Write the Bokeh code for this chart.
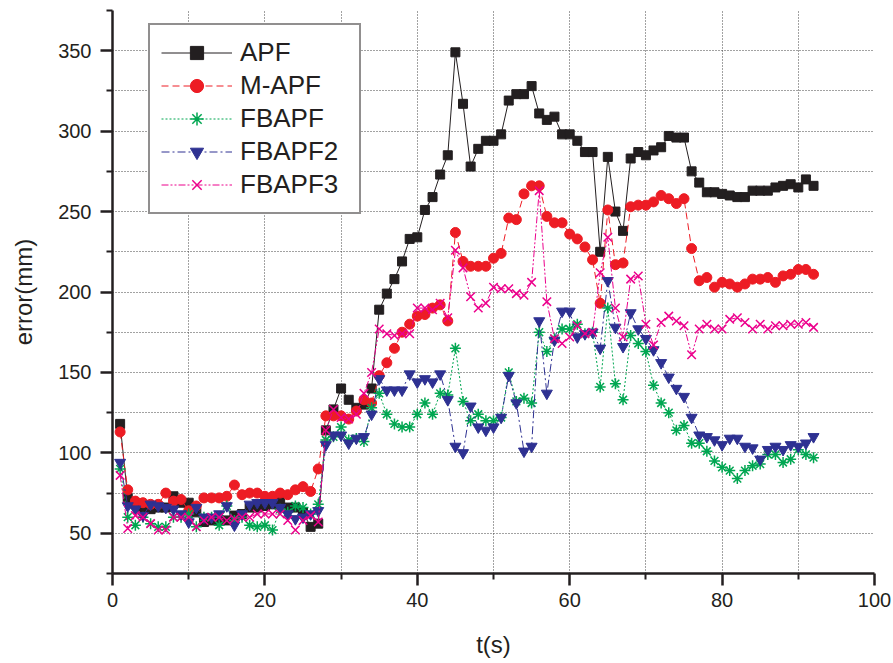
from bokeh.plotting import figure
from bokeh.models import FixedTicker, Range1d, Legend, LegendItem, ColumnDataSource
from bokeh.embed import file_html
from bokeh.resources import INLINE

t = list(range(1, 93))

apf = [118, 72, 68, 65, 65, 66, 66, 73, 69, 69,
       63, 57, 58, 58, 58, 61, 62, 66, 66, 67,
       68, 71, 66, 66, 63, 54, 56, 114, 127, 140,
       133, 128, 130, 140, 189, 199, 208, 219, 233, 234,
       251, 259, 273, 285, 349, 317, 278, 289, 294, 294,
       298, 319, 323, 323, 328, 311, 307, 309, 298, 298,
       294, 287, 287, 225, 284, 250, 238, 283, 287, 285,
       288, 290, 297, 296, 296, 275, 268, 262, 262, 261,
       260, 259, 259, 263, 263, 263, 265, 266, 267, 265,
       270, 266]

m_apf = [113, 77, 70, 69, 68, 68, 75, 70, 71, 64,
         67, 72, 72, 72, 73, 80, 74, 75, 75, 73,
         73, 75, 74, 77, 79, 76, 90, 123, 123, 123,
         121, 126, 133, 131, 148, 156, 165, 175, 180, 185,
         186, 190, 192, 182, 237, 219, 216, 216, 216, 221,
         224, 246, 245, 261, 266, 266, 247, 243, 243, 236,
         233, 228, 220, 193, 251, 217, 218, 253, 254, 254,
         256, 260, 258, 255, 258, 227, 207, 209, 203, 206,
         205, 203, 205, 208, 208, 209, 206, 210, 211, 214,
         214, 211]

fbapf = [90, 60, 55, 60, 56, 54, 54, 60, 60, 62,
         54, 60, 60, 55, 67, 58, 60, 55, 54, 55,
         52, 65, 63, 67, 66, 62, 68, 108, 110, 116,
         108, 109, 107, 128, 137, 124, 118, 116, 116, 124,
         131, 124, 137, 136, 165, 132, 120, 124, 120, 120,
         122, 150, 132, 134, 131, 175, 163, 171, 177, 177,
         180, 174, 175, 141, 190, 143, 133, 173, 168, 163,
         142, 131, 125, 114, 117, 106, 106, 101, 95, 91,
         89, 84, 89, 92, 93, 99, 99, 94, 96, 102,
         99, 97]

fbapf2 = [94, 67, 65, 61, 68, 67, 66, 65, 62, 57,
          66, 60, 60, 62, 67, 55, 62, 68, 69, 69,
          69, 66, 62, 59, 60, 62, 64, 105, 111, 111,
          106, 109, 110, 124, 146, 139, 139, 139, 149, 144,
          146, 144, 149, 133, 104, 100, 129, 116, 114, 116,
          122, 148, 131, 101, 104, 182, 137, 170, 188, 188,
          172, 174, 175, 165, 207, 178, 166, 187, 177, 171,
          164, 156, 147, 140, 135, 122, 111, 110, 108, 105,
          109, 109, 104, 103, 96, 102, 104, 102, 105, 104,
          106, 110]

fbapf3 = [86, 53, 61, 60, 56, 52, 52, 60, 60, 60,
          54, 58, 60, 60, 58, 59, 60, 60, 62, 62,
          62, 62, 58, 52, 58, 61, 57, 114, 127, 122,
          121, 124, 137, 150, 177, 174, 173, 174, 174, 190,
          190, 189, 193, 184, 226, 215, 197, 190, 193, 203,
          202, 202, 199, 198, 206, 263, 194, 171, 168, 172,
          179, 174, 175, 212, 234, 190, 172, 208, 210, 180,
          167, 181, 185, 182, 179, 161, 177, 180, 177, 177,
          183, 184, 181, 177, 180, 177, 179, 179, 180, 180,
          181, 178]

series_names = ["APF", "M-APF", "FBAPF", "FBAPF2", "FBAPF3"]
x_major = [0, 20, 40, 60, 80, 100]
x_minor = [10, 30, 50, 70, 90]
y_major = [50, 100, 150, 200, 250, 300, 350]
y_minor = [25, 75, 125, 175, 225, 275, 325, 375]

FONT = "Liberation Sans"
INK = "#231f20"

p = figure(width=893, height=663, output_backend="svg", toolbar_location=None,
           x_range=Range1d(0, 100), y_range=Range1d(25, 375),
           min_border_left=112, min_border_right=19, min_border_top=10,
           min_border_bottom=90)
p.outline_line_color = None
p.background_fill_color = "white"

p.xaxis.ticker = FixedTicker(ticks=x_major, minor_ticks=x_minor)
p.yaxis.ticker = FixedTicker(ticks=y_major, minor_ticks=y_minor)
p.xgrid.ticker = FixedTicker(ticks=list(range(10, 100, 10)))
p.ygrid.ticker = FixedTicker(ticks=list(range(50, 351, 25)))
for g in (p.xgrid, p.ygrid):
    g.grid_line_color = "#444444"
    g.grid_line_dash = "1 2"
    g.grid_line_width = 1

for ax in (p.xaxis, p.yaxis):
    ax.axis_line_color = INK
    ax.axis_line_width = 2.5
    ax.major_tick_line_color = INK
    ax.major_tick_line_width = 2.5
    ax.minor_tick_line_color = INK
    ax.minor_tick_line_width = 2
    ax.major_tick_out = 12
    ax.major_tick_in = 0
    ax.minor_tick_out = 6
    ax.minor_tick_in = 0
    ax.major_label_text_font = FONT
    ax.major_label_text_font_size = "20px"
    ax.major_label_text_color = INK
    ax.axis_label_text_font = FONT
    ax.axis_label_text_font_size = "24px"
    ax.axis_label_text_font_style = "normal"
    ax.axis_label_text_color = INK

p.xaxis.axis_label = "t(s)"
p.yaxis.axis_label = "error(mm)"
p.xaxis.major_label_standoff = 7
p.yaxis.major_label_standoff = 9
p.xaxis.axis_label_standoff = 21
p.yaxis.axis_label_standoff = 18

specs = [
    (apf, "#231f20", "solid", "square", 9),
    (m_apf, "#ed1c24", "7 4", "circle", 10),
    (fbapf, "#00a651", "2 2", "asterisk", 11),
    (fbapf2, "#2e3192", "8 3 2 3", "inverted_triangle", 11),
    (fbapf3, "#ec008c", "7 2 2 2 2 2", "x", 12),
]

items = []
for name, (ys, color, dash, marker, size) in zip(series_names, specs):
    src = ColumnDataSource(dict(t=t, y=ys))
    ln = p.line("t", "y", source=src, line_color=color, line_dash=dash, line_width=1)
    sc = p.scatter("t", "y", source=src, marker=marker, size=size,
                   fill_color=color, line_color=color,
                   line_width=1.5 if marker in ("asterisk", "x") else 1)
    items.append(LegendItem(label=name, renderers=[ln, sc]))

legend = Legend(items=items, location=(36, 359))
legend.border_line_color = INK
legend.border_line_width = 2
legend.background_fill_color = "white"
legend.background_fill_alpha = 1
legend.label_text_font = FONT
legend.label_text_font_size = "26px"
legend.label_text_color = INK
legend.glyph_width = 71
legend.glyph_height = 33
legend.label_height = 33
legend.label_width = 108
legend.label_standoff = 8
legend.padding = 11
legend.spacing = 0
legend.margin = 0
p.add_layout(legend)

open("out.html", "w").write(file_html(p, INLINE))
